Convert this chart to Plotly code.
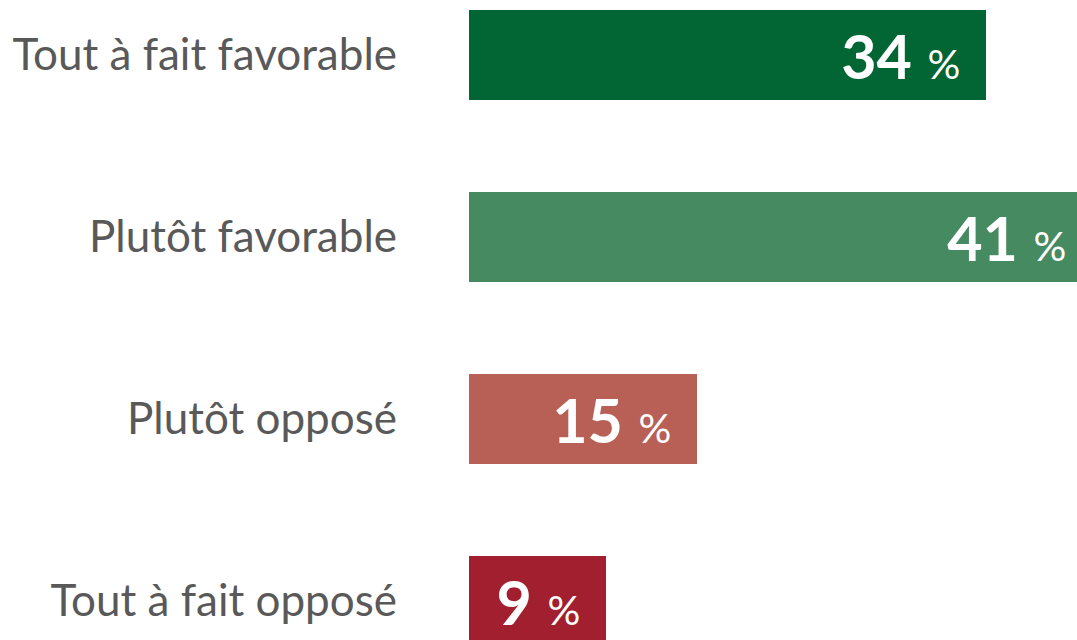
import plotly.graph_objects as go

categories = ["Tout à fait favorable", "Plutôt favorable", "Plutôt opposé", "Tout à fait opposé"]
values = [34, 41, 15, 9]
colors = ["#016634", "#468A62", "#B85F56", "#A11F2E"]

ypos = list(range(len(categories)))
pad = "<span style='font-size:44px'>\u00a0\u00a0</span>"
labels = [f"<b>{v}</b> <span style='font-size:41px'>%</span>{pad}" for v in values]

fig = go.Figure()
fig.add_trace(go.Bar(
    x=values, y=ypos, orientation="h",
    marker=dict(color=colors, line=dict(width=0)),
    width=0.495, hoverinfo="skip",
    text=labels, textposition="inside", insidetextanchor="end",
    constraintext="none", textangle=0,
    insidetextfont=dict(family="Lato", size=61, color="white"),
))

fig.update_layout(
    width=1077, height=640,
    margin=dict(l=469, r=0, t=0, b=0),
    paper_bgcolor="white", plot_bgcolor="white",
    showlegend=False,
    bargap=0,
    xaxis=dict(range=[0, 40.0], visible=False, fixedrange=True),
    yaxis=dict(
        range=[3.214, -0.302],
        tickvals=ypos, ticktext=categories,
        showgrid=False, zeroline=False, showline=False, ticks="",
        ticklabelstandoff=71,
        tickfont=dict(family="Lato", size=44, color="#595959"),
    ),
)

fig.write_html("out.html")
